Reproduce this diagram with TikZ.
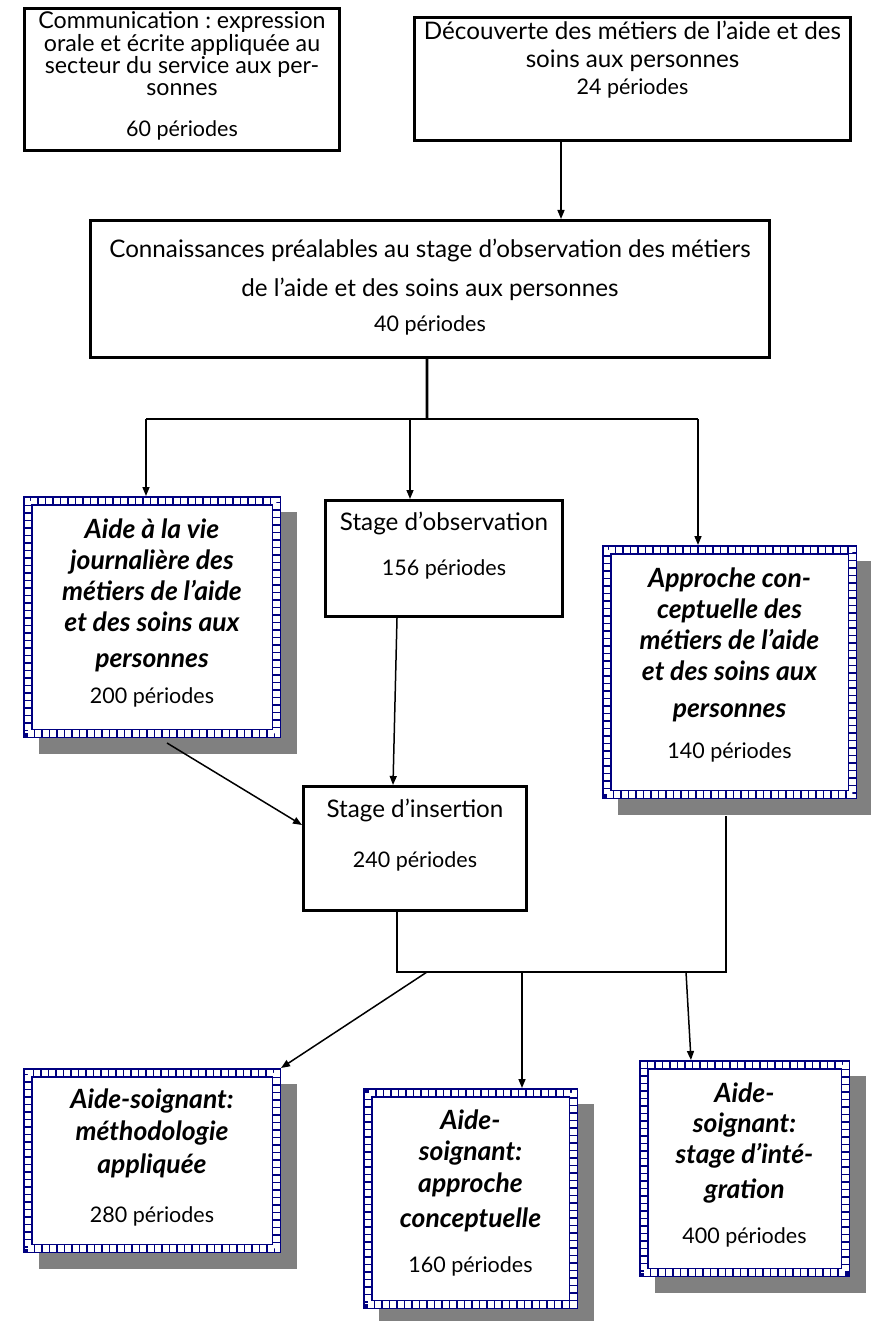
\documentclass[tikz,border=0pt]{standalone}
\usepackage{fontspec}
\setmainfont{Lato}
\usetikzlibrary{arrows.meta,backgrounds}
\definecolor{chainblue}{RGB}{0,0,128}
\definecolor{shadowgray}{RGB}{128,128,128}
\newcommand{\pertxt}{\fontsize{21.5}{20}\mdseries\upshape\selectfont}
\frenchspacing
\begin{document}
\begin{tikzpicture}[x=1pt,y=-1pt,
  plainbox/.style={draw=black, line width=2.8pt, fill=white, inner sep=0pt, align=flush center, anchor=north west},
  chainbox/.style={draw=chainblue, line width=9.5pt, preaction={fill=white},
    postaction={draw=white, line width=6.5pt, dash pattern=on 6pt off 1.5pt},
    inner sep=0pt, align=flush center, anchor=north west},
  trunk/.style={line width=2.6pt},
  arrowline/.style={line width=1.5pt, -{Triangle[length=9pt,width=7pt]}},
  shadowbox/.style={fill=shadowgray},
]
\useasboundingbox (0,0) rectangle (870,1321);

% plain boxes
\node[plainbox, text width=315.2pt, text height=20.6pt, text depth=121.6pt,
  font={\fontsize{23.2}{20.3}\selectfont}] (A) at (23,7)
  {Communication : expression\\orale et écrite appliquée au\\secteur du service aux per-\\[1.8pt]sonnes\\[20.8pt]{\pertxt 60 périodes}};
\node[plainbox, text width=436.2pt, text height=22.6pt, text depth=100.6pt,
  font={\fontsize{24.2}{27.5}\selectfont}] (B) at (413,16)
  {Découverte des métiers de l’aide et des\\soins aux personnes\\{\pertxt 24 périodes}};
\node[plainbox, text width=679.2pt, text height=37.6pt, text depth=99.6pt,
  font={\fontsize{24.2}{39}\selectfont}] (C) at (89,219)
  {Connaissances préalables au stage d’observation des métiers\\de l’aide et des soins aux personnes\\[-4pt]{\pertxt 40 périodes}};
\node[plainbox, text width=237.2pt, text height=29.6pt, text depth=86.6pt,
  font={\fontsize{24.2}{45}\selectfont}] (E) at (324,499)
  {Stage d’observation\\{\pertxt 156 périodes}};
\node[plainbox, text width=223.2pt, text height=30.6pt, text depth=93.6pt,
  font={\fontsize{24.2}{50}\selectfont}] (G) at (302,785)
  {Stage d’insertion\\{\pertxt 240 périodes}};

% chain boxes
\node[chainbox, text width=248.5pt, text height=37.25pt, text depth=195.25pt,
  font={\fontsize{26.5}{31}\bfseries\itshape\selectfont}] (D) at (23,496)
  {Aide à la vie\\journalière des\\métiers de l’aide\\et des soins aux\\[5pt]personnes\\[5pt]{\pertxt 200 périodes}};
\node[chainbox, text width=245.5pt, text height=37.25pt, text depth=207.25pt,
  font={\fontsize{26.5}{31}\bfseries\itshape\selectfont}] (F) at (602,545)
  {Approche con-\\ceptuelle des\\métiers de l’aide\\et des soins aux\\[6pt]personnes\\[10pt]{\pertxt 140 périodes}};
\node[chainbox, text width=248.5pt, text height=35.25pt, text depth=140.25pt,
  font={\fontsize{26.5}{32.5}\bfseries\itshape\selectfont}] (H) at (23,1068)
  {Aide-soignant:\\méthodologie\\appliquée\\[16.5pt]{\pertxt 280 périodes}};
\node[chainbox, text width=205.5pt, text height=36.25pt, text depth=175.25pt,
  font={\fontsize{26.5}{31.5}\bfseries\itshape\selectfont}] (I) at (363,1088)
  {Aide-\\soignant:\\approche\\[3.5pt]conceptuelle\\[13.5pt]{\pertxt 160 périodes}};
\node[chainbox, text width=201.5pt, text height=37.25pt, text depth=170.25pt,
  font={\fontsize{26.5}{30.5}\bfseries\itshape\selectfont}] (J) at (639,1060)
  {Aide-\\soignant:\\stage d’inté-\\[4.5pt]gration\\[14.5pt]{\pertxt 400 périodes}};

% shadows and background
\begin{scope}[on background layer]
  \fill[white] (0,0) rectangle (870,1321);
  \foreach \n in {D,F,H,I,J}
    \fill[shadowbox] ([shift={(16pt,-16pt)}]\n.north west) rectangle ([shift={(16pt,-16pt)}]\n.south east);
\end{scope}

% connectors
\coordinate (t1) at (427,419);
\coordinate (bar1w) at (146,419);
\coordinate (bar1m) at (410,419);
\coordinate (bar1e) at (698,419);
\coordinate (bar2a) at (427,972);
\coordinate (bar2m) at (522,972);
\coordinate (bar2c) at (686,972);

\draw[arrowline] ([xshift=-71.5pt]B.south) -- ([xshift=-71.5pt]B.south |- C.north);
\draw[trunk] ([xshift=-3pt]C.south) -- (t1);
\draw[trunk] (bar1w) -- (bar1e);
\draw[arrowline] (bar1w) -- (bar1w |- D.north);
\draw[arrowline] (bar1m) -- (bar1m |- E.north);
\draw[arrowline] (bar1e) -- (bar1e |- F.north);
\draw[arrowline] ([xshift=15pt,yshift=-5pt]D.south) -- ([yshift=23.5pt]G.west);
\draw[arrowline] ([xshift=-47pt]E.south) -- ([xshift=-22pt]G.north);
\draw[trunk] ([xshift=-18pt]G.south) |- (bar2m) -| ([xshift=-3.5pt,yshift=-17pt]F.south);
\draw[arrowline] (bar2a) -- (H.north east);
\draw[arrowline] (bar2m) -- (bar2m |- I.north);
\draw[arrowline] (bar2c) -- ([xshift=-53.5pt]J.north);
\end{tikzpicture}
\end{document}
